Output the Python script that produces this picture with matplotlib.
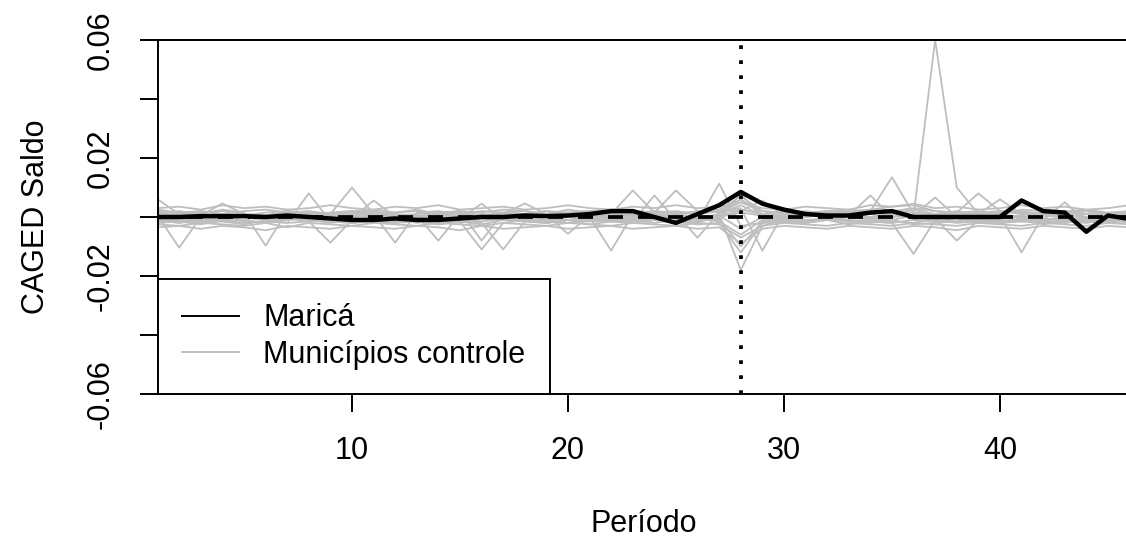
import numpy as np
import matplotlib
matplotlib.use("Agg")
import matplotlib.pyplot as plt
from matplotlib.lines import Line2D

plt.rcParams['font.family'] = ['Liberation Sans', 'DejaVu Sans']

# saldo CAGED por período, em milésimos
periodo = np.arange(1, 48)
marica = [0, 0, 0.3, 0.3, 0.3, 0, 0.5, 0, -0.5, -1,
          -1, -0.5, -1, -1, -0.5, 0, 0, 0.5, 0.3, 0.5,
          1, 2, 2, 0, -2, 1, 4, 8.5, 4.5, 2.5,
          1, 0.5, 0.5, 1.5, 2, 0, 0, 0, 0, 0,
          5.6, 2, 1.5, -5, 0.5, -0.7, 0]

controles = [
    [1, 0.5, -0.5, 1, 0, -1, 0.5, 1, -0.5, 0,
     0.5, -1, 0, 1, -0.5, 0.5, 1, 0, -1, 0.5,
     1, 0, -0.5, 1, 0.5, -1, 0, 1.5, 0.5, -0.5,
     0, 1, 0.5, -0.5, 1, 0.5, 60, 10, 1, 0,
     0.5, -1, 0, 1, 0.5, 0, 1],
    [-1, -2, -1, 0.5, -1.5, -2, -0.5, -1, -2, -1,
     -1.5, -0.5, -2, -1, -1.5, -2.5, -1, -0.5, -2, -1,
     -1.5, -1, -2, -0.5, -1.5, -2, 1, -18, -3, -1,
     -1.5, -0.5, -1, 2, 13.5, 1, -1, -1.5, -0.5, -2,
     -1, -1.5, -2, -1, -0.5, -1.5, -1],
    [2, 1, 1.5, 2, 1, 0.5, 2, 1.5, 1, 10,
     1, -8.7, 1.5, 2, 1, 2, 1.5, 1, 2, 1.5,
     2, 1, 9, 1.5, 2, 1, 2, 3, -11.4, 1.5,
     1, 2, 1.5, 1, 2, 1.5, 1, 2, 1, 1.5,
     2, 1, 1.5, 2, 1, 1.5, 2],
    [-2, -1.5, -2.5, -1, -2, -1.5, -2, 8, -1.5, -2,
     -1, -2, -1.5, -2.5, -1, -2, -11, -1.5, -2, -1,
     -2.5, -1.5, -2, -1, -2, -1.5, 11.3, -3, -2, -1.5,
     -2, -1, -2.5, -1.5, -2, -12.5, -1, -2, -1.5, -2,
     -1, -2.5, -1.5, -2, -1, -2, -1.5],
    [0.5, -10.4, 0, 1, 0.5, -0.5, 1, 0, 0.5, -0.5,
     5.6, 0, -0.5, 1, 0.5, 0, -0.5, 1, 0, 0.5,
     0, -11.4, 1, 0.5, 0, -0.5, 1, 4, 0.5, 0,
     1, -0.5, 0.5, 7.3, 0, 0.5, -0.5, 1, 0, 0.5,
     -12, 0.5, 0, 1, -0.5, 0.5, 0],
    [1.5, 2, 1, 2.5, 1.5, -9.7, 2, 1, 1.5, 2,
     1, 1.5, 2.5, 1, 2, -8, 1.5, 2, 1, 2.5,
     1.5, 2, 1, 1.5, 9, 2, 1.5, 5, 2, 1,
     1.5, 2, 2.5, 1, 2, 3, 2, 1.5, 8, 2,
     1.5, 1, 2, 2.5, 1.5, 2, 1],
    [-1, -0.5, -1.5, -1, 0, -1, -0.5, -1.5, -8.7, -1,
     -0.5, -1.5, -1, 0, -1, -1.5, -0.5, -1, -1.5, 0,
     -1, -0.5, -1.5, 7.3, -1, -0.5, -1.5, -6, -1, -0.5,
     -1.5, -1, 0, -1, -1.5, -2, -0.5, -8, -1, -1.5,
     -0.5, -1, 5, -1.5, -1, -0.5, -1],
    [0, 1, 0.5, -0.5, 1, 0, 0.5, 1.5, 0, 0.5,
     1, 0, 0.5, -8, 1, 0.5, 0, 1, 0.5, -5.7,
     0.5, 1, 0, 0.5, 1, 0, 0.5, 2, 5.6, 0.5,
     0, 1, 0.5, 0, 1, 0.5, 6.6, 0, 1, 0.5,
     0, 1, 0.5, 0, 1, 0.5, 0],
    [6, 1, 0.5, 4.6, 1, 0.5, 1.5, 1, 0.5, 1,
     1.5, 1, 0.5, 1, 1.5, 0.5, 1, 4.6, 1, 0.5,
     1, 1.5, 0.5, 1, 1, -7, 1.5, 2.5, 1, 0.5,
     1, 1.5, 0.5, 1, 2, 0.5, 1, 1.5, 1, 6,
     1, 0.5, 1.5, 1, 0.5, 1, 1.5],
    [-0.5, 0, -1, -0.5, 0, -1, -0.5, 0, -0.5, -1,
     0, -0.5, -1, 0, -0.5, 4.5, -1, -0.5, 0, -1,
     -0.5, 0, -1, -0.5, 0, -0.5, -1, 8, -0.5, 0,
     -1, -0.5, 0, -0.5, -1, 0.5, -0.5, 0, -1, -0.5,
     0, -0.5, -1, 0, -0.5, -1, 0],
    [-1.5, -1, -2, -1.5, -2.5, -1, -2, -1.5, -1, -2,
     -1.5, -2, -1, -2.5, -1.5, -11, -2, -1, -1.5, -2,
     -1, -1.5, -2, -1, -1.5, -2.5, -2, -12, -2, -1.5,
     -2, -1, -1.5, -2, -1, -2.5, -2, -1.5, -1, -2,
     -1.5, -2, -1, -1.5, -2, -1, -1.5],
    [2.5, 1.5, 2, 1, 2, 2.5, 1.5, 2, 1, 2,
     2.5, 1.5, 2, 1, 2, 1.5, 2.5, 2, 1, 1.5,
     2, 2.5, 1.5, 2, 1, 2, 2.5, 7, 2, 1.5,
     2, 1, 2, 2.5, 3.5, 4, 2, 1.5, 2, 1,
     2.5, 2, 1.5, 2, 1, 2, 2.5],
    [-2.5, -3, -2, -2.5, -3, -2, -3.5, -2, -2.5, -3,
     -2, -2.5, -3, -2, -2.5, -3, -2, -2.5, -3, -2,
     -2.5, -3, -2, -2.5, -3, -2, -2.5, -7, -3, -2,
     -2.5, -3, -2, -2.5, -3, -2, -2.5, -3, -2, -2.5,
     -3, -2, -2.5, -3, -2, -2.5, -3],
    [0.5, 0, 0.5, 1, 0, 0.5, 0, 0.5, 1, 0,
     0.5, 1, 0, 0.5, 0, 1, 0.5, 0, 0.5, 1,
     0, 0.5, 1, 0, 0.5, 0, 0.5, -4, 0, 0.5,
     1, 0, 0.5, 0, 1, -0.5, 0.5, 0, 0.5, 1,
     0, 0.5, 0, 1, 0.5, 0, 0.5],
    [3, 3.5, 2.5, 4, 3, 3.5, 2.5, 3, 4, 3,
     2.5, 3.5, 3, 4, 2.5, 3, 3.5, 2.5, 3, 4,
     3, 2.5, 3.5, 3, 4, 3, 3.5, 5, 3, 2.5,
     3.5, 3, 2.5, 4, 3.5, 4.5, 3, 3.5, 2.5, 3,
     4, 3, 3.5, 2.5, 3, 4, 3],
    [-3.5, -3, -4, -3, -3.5, -4.5, -3, -3.5, -4, -3,
     -3.5, -4, -3, -3.5, -4.5, -3, -4, -3.5, -3, -4,
     -3.5, -3, -4, -3.5, -3, -4, -3.5, -9, -4, -3,
     -3.5, -4, -3, -3.5, -4, -3, -3.5, -4.5, -3, -3.5,
     -4, -3, -3.5, -4, -3, -3.5, -4],
    [1.5, 0.5, 2, 1, 0.5, 1.5, 2, 0.5, 1, 1.5,
     2, 0.5, 1, 1.5, 2, 0.5, 1.5, 1, 2, 0.5,
     1.5, 1, 0.5, 2, 1.5, 1, 2, 6, 1, 2,
     0.5, 1.5, 1, 2, 1.5, 2.5, 1, 0.5, 1.5, 2,
     1, 1.5, 0.5, 2, 1, 1.5, 0.5],
    [-1, -2, -0.5, -1.5, -1, -2, -1, -0.5, -1.5, -2,
     -1, -0.5, -1.5, -1, -2, -0.5, -1, -1.5, -2, -1,
     -0.5, -1.5, -1, -2, -1, -1.5, -0.5, -10, -1.5, -1,
     -2, -0.5, -1, -1.5, -2, -1, -1.5, -0.5, -2, -1,
     -1.5, -1, -2, -0.5, -1.5, -1, -2],
]

periodo_tratamento = 28
yticks = [-0.06, -0.04, -0.02, 0.0, 0.02, 0.04, 0.06]
ytick_labels = ['-0.06', '', '-0.02', '', '0.02', '', '0.06']
xticks = [10, 20, 30, 40]

fs = 22
cinza = '#bebebe'

fig = plt.figure(figsize=(11.26, 5.45), dpi=100)
ax = fig.add_axes([0.13996, 0.27706, 0.8632, 0.64955])

for serie in controles:
    ax.plot(periodo, np.array(serie) / 1000, color=cinza, lw=1.3)
ax.plot(periodo, np.array(marica) / 1000, color='black', lw=3.2)
ax.axhline(0, color='black', lw=2.7, dashes=(4, 4))
ax.axvline(periodo_tratamento, color='black', lw=2.7, dashes=(1, 3))

ax.set_xlim(1, 46)
ax.set_ylim(-0.06, 0.06)
ax.set_xticks(xticks)
ax.set_xticklabels([str(t) for t in xticks], fontsize=fs)
ax.set_yticks(yticks)
ax.set_yticklabels(ytick_labels, fontsize=fs, rotation=90, va='center')
ax.tick_params(direction='out', length=13, width=1.4, pad=17)
for lado in ['left', 'top', 'bottom']:
    ax.spines[lado].set_linewidth(1.4)
ax.spines['right'].set_visible(False)

ax.set_xlabel('Período', fontsize=fs, labelpad=31)
ax.set_ylabel('CAGED Saldo', fontsize=fs, labelpad=25)

handles = [Line2D([], [], color='black', lw=1.4),
           Line2D([], [], color=cinza, lw=1.4)]
leg = ax.legend(handles, ['Maricá', 'Municípios controle'],
                loc='lower left', bbox_to_anchor=(0, 0), borderaxespad=0,
                fontsize=fs, fancybox=False, framealpha=1, edgecolor='black',
                borderpad=0.8, labelspacing=0.2, handlelength=1.85,
                handletextpad=0.8)
leg.get_frame().set_linewidth(1.4)

fig.savefig('out.png', dpi=100)
